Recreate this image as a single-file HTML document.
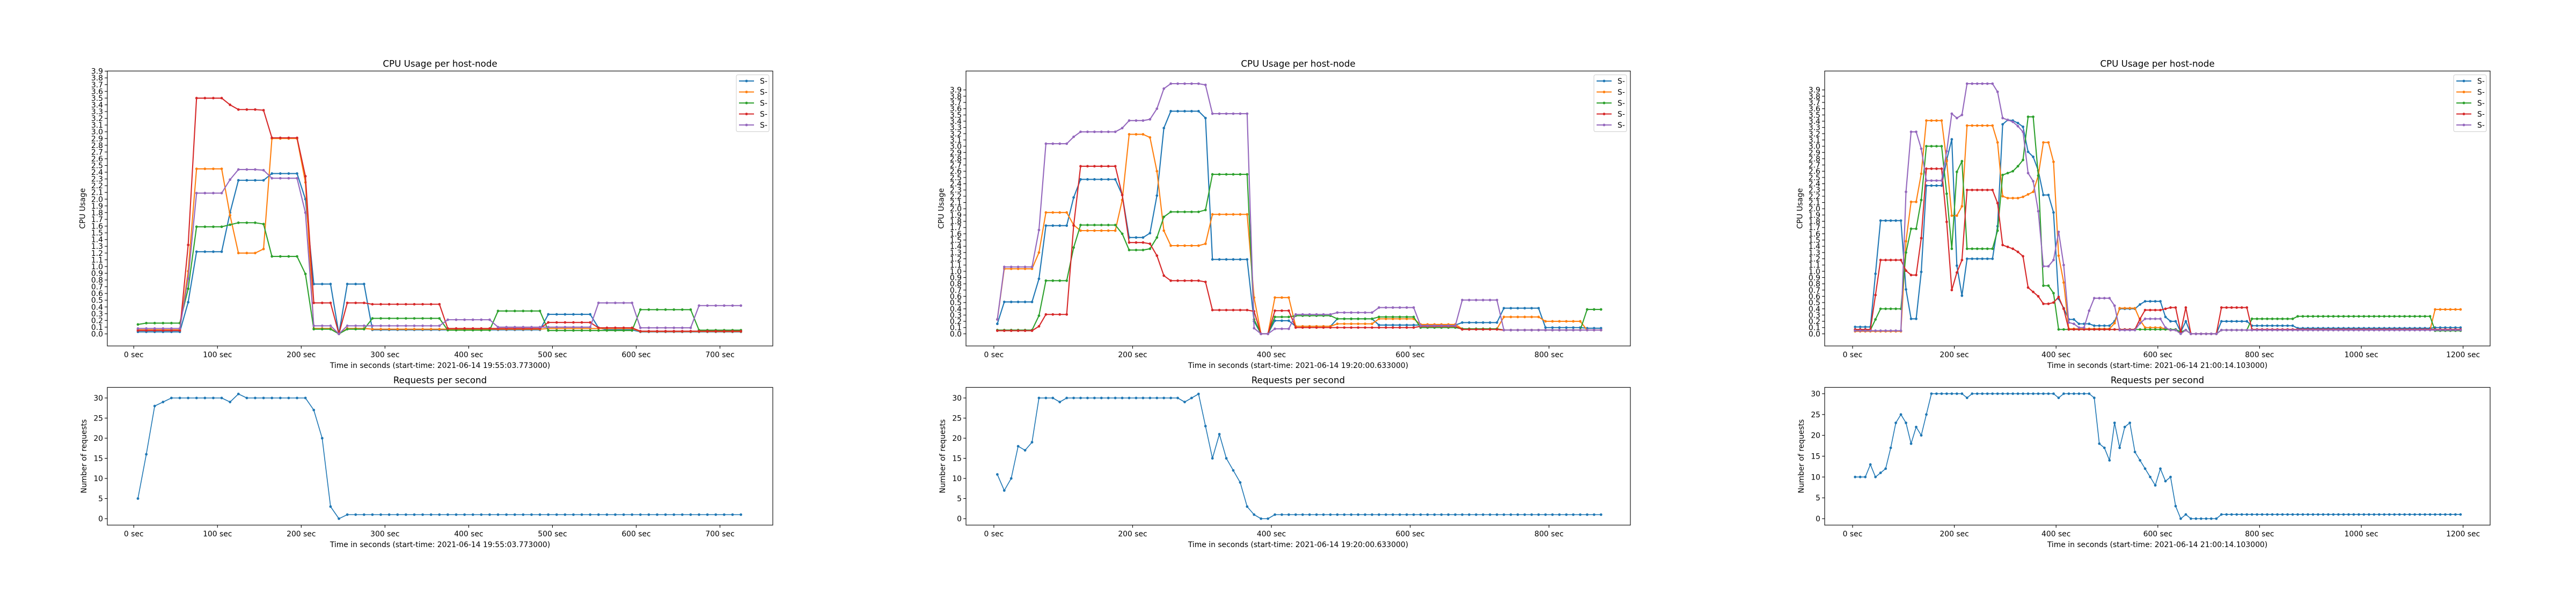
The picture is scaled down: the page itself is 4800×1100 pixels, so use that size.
<!DOCTYPE html>
<html><head><meta charset="utf-8"><title>CPU Usage per host-node</title>
<style>html,body{margin:0;padding:0;background:#fff;}svg{display:block;font-family:"DejaVu Sans","Liberation Sans",sans-serif;}</style>
</head><body>
<svg id="fig" xmlns="http://www.w3.org/2000/svg" width="4800" height="1100" viewBox="0 0 4800 1100">
<rect width="4800" height="1100" fill="#fff"/>
</svg>
<script>
// ---------- Chart 1 data (t = 5,15,...,725) ----------
const c1Blue = [0.03,0.03,0.03,0.03,0.03,0.03,0.47,1.22,1.22,1.22,1.22,1.8,2.28,2.28,2.28,2.28,2.38,2.38,2.38,2.38,2.0,0.74,0.74,0.74,0,0.74,0.74,0.74,
0.06,0.06,0.06,0.06,0.06,0.06,0.06, 0.06,0.06,0.06,0.06,0.06,0.06,0.06, 0.06,0.06,0.06,0.06,0.06,0.06,0.06,
0.29,0.29,0.29,0.29,0.29,0.29,0.09,0.06,0.06,0.06,0.06,
0.03,0.03,0.03,0.03,0.03,0.03,0.03,0.03,0.03,0.03,0.03,0.03,0.03];
const c1Orange = [0.06,0.06,0.06,0.06,0.06,0.06,0.93,2.45,2.45,2.45,2.45,1.76,1.2,1.2,1.2,1.26,2.9,2.9,2.9,2.9,2.25,0.08,0.08,0.08,0,0.08,0.08,0.08,
0.07,0.07,0.07,0.07,0.07,0.07,0.07, 0.07,0.07,0.07,0.07,0.07,0.07,0.07, 0.07,0.07,0.07,0.07,0.07,0.07,0.07,
0.08,0.08,0.08,0.08,0.08,0.08,0.08,0.08,0.08,0.08,0.08,
0.035,0.035,0.035,0.035,0.035,0.035,0.035,0.035,0.035,0.035,0.035,0.035,0.035];
const c1Green = [0.14,0.16,0.16,0.16,0.16,0.16,0.67,1.59,1.59,1.59,1.59,1.62,1.65,1.65,1.65,1.63,1.15,1.15,1.15,1.15,0.89,0.07,0.07,0.07,0,0.07,0.07,0.07,
0.23,0.23,0.23,0.23,0.23,0.23,0.23,0.23,0.23,
0.055,0.055,0.055,0.055,0.055,0.055,
0.34,0.34,0.34,0.34,0.34,0.34,
0.05,0.05,0.05,0.05,0.05,0.05,0.05,0.05,0.05,0.05,0.05,
0.36,0.36,0.36,0.36,0.36,0.36,0.36,
0.055,0.055,0.055,0.055,0.055,0.055];
const c1Red = [0.05,0.05,0.05,0.05,0.05,0.05,1.32,3.5,3.5,3.5,3.5,3.4,3.33,3.33,3.33,3.32,2.91,2.91,2.91,2.91,2.34,0.46,0.46,0.46,0,0.46,0.46,0.46,
0.44,0.44,0.44,0.44,0.44,0.44,0.44,0.44,0.44,
0.08,0.08,0.08,0.08,0.08,0.08,0.08,0.08,0.08,0.08,0.08,0.08,
0.17,0.17,0.17,0.17,0.17,0.17,
0.09,0.09,0.09,0.09,0.09,
0.04,0.04,0.04,0.04,0.04,0.04,0.04,0.04,0.04,0.04,0.04,0.04,0.04];
const c1Purple = [0.08,0.08,0.08,0.08,0.08,0.08,0.82,2.09,2.09,2.09,2.09,2.29,2.44,2.44,2.44,2.43,2.31,2.31,2.31,2.31,1.8,0.12,0.12,0.12,0,0.12,0.12,0.12,
0.12,0.12,0.12,0.12,0.12,0.12,0.12,0.12,0.12,
0.21,0.21,0.21,0.21,0.21,0.21,
0.1,0.1,0.1,0.1,0.1,0.1,0.1,0.1,0.1,0.1,0.1,0.1,
0.46,0.46,0.46,0.46,0.46,
0.09,0.09,0.09,0.09,0.09,0.09,0.09,
0.42,0.42,0.42,0.42,0.42,0.42];
const c1Req = [5,16,28,29,30,30,30,30,30,30,30,29,31,30,30,30,30,30,30,30,30,27,20,3,0,
1,1,1,1,1,1,1,1,1,1,1,1,1,1,1,1,1,1,1,1,1,1,1,1,1,1,1,1,1,1,1,1,1,1,1,1,1,1,1,1,1,1,1,1,1,1,1,1];

// ---------- Chart 2 data (t = 5,...,875) ----------
const c2Blue = [0.16,0.51,0.51,0.51,0.51,0.51,0.88,1.73,1.73,1.73,1.73,2.18,2.47,2.47,2.47,2.47,2.47,2.47,2.22,1.54,1.54,1.54,1.61,2.21,3.29,3.56,3.56,3.56,3.56,3.56,3.45,
1.19,1.19,1.19,1.19,1.19,1.19,0.2,0,0,0.21,0.21,0.21,
0.12,0.12,0.12,0.12,0.12,0.12, 0.24,0.24,0.24,0.24,0.24,0.24, 0.14,0.14,0.14,0.14,0.14,0.14, 0.14,0.14,0.14,0.14,0.14,0.14,
0.18,0.18,0.18,0.18,0.18,0.18, 0.41,0.41,0.41,0.41,0.41,0.41, 0.1,0.1,0.1,0.1,0.1,0.1, 0.09,0.09,0.09];
const c2Orange = [0.23,1.04,1.04,1.04,1.04,1.04,1.3,1.94,1.94,1.94,1.94,1.74,1.65,1.65,1.65,1.65,1.65,1.65,2.14,3.19,3.19,3.19,3.14,2.6,1.65,1.41,1.41,1.41,1.41,1.41,1.44,
1.91,1.91,1.91,1.91,1.91,1.91,0.58,0,0,0.58,0.58,0.58,
0.12,0.12,0.12,0.12,0.12,0.12, 0.16,0.16,0.16,0.16,0.16,0.16, 0.24,0.24,0.24,0.24,0.24,0.24, 0.15,0.15,0.15,0.15,0.15,0.15,
0.08,0.08,0.08,0.08,0.08,0.08, 0.27,0.27,0.27,0.27,0.27,0.27, 0.2,0.2,0.2,0.2,0.2,0.2, 0.06,0.06,0.06];
const c2Green = [0.06,0.06,0.06,0.06,0.06,0.06,0.29,0.85,0.85,0.85,0.85,1.38,1.74,1.74,1.74,1.74,1.74,1.74,1.6,1.34,1.34,1.34,1.36,1.54,1.87,1.95,1.95,1.95,1.95,1.95,1.98,
2.55,2.55,2.55,2.55,2.55,2.55,0.23,0,0,0.27,0.27,0.27,
0.29,0.29,0.29,0.29,0.29,0.29, 0.24,0.24,0.24,0.24,0.24,0.24, 0.27,0.27,0.27,0.27,0.27,0.27, 0.1,0.1,0.1,0.1,0.1,0.1,
0.08,0.08,0.08,0.08,0.08,0.08, 0.06,0.06,0.06,0.06,0.06,0.06, 0.06,0.06,0.06,0.06,0.06,0.06, 0.39,0.39,0.39];
const c2Red = [0.05,0.05,0.05,0.05,0.05,0.05,0.12,0.31,0.31,0.31,0.31,1.73,2.68,2.68,2.68,2.68,2.68,2.68,2.22,1.46,1.46,1.46,1.44,1.25,0.93,0.85,0.85,0.85,0.85,0.85,0.83,
0.38,0.38,0.38,0.38,0.38,0.38,0.36,0,0,0.37,0.37,0.37,
0.1,0.1,0.1,0.1,0.1,0.1, 0.1,0.1,0.1,0.1,0.1,0.1, 0.1,0.1,0.1,0.1,0.1,0.1, 0.12,0.12,0.12,0.12,0.12,0.12,
0.07,0.07,0.07,0.07,0.07,0.07, 0.06,0.06,0.06,0.06,0.06,0.06, 0.06,0.06,0.06,0.06,0.06,0.06, 0.06,0.06,0.06];
const c2Purple = [0.23,1.07,1.07,1.07,1.07,1.07,1.66,3.04,3.04,3.04,3.04,3.15,3.23,3.23,3.23,3.23,3.23,3.23,3.29,3.41,3.41,3.41,3.43,3.6,3.92,4.0,4.0,4.0,4.0,4.0,3.98,
3.52,3.52,3.52,3.52,3.52,3.52,0.09,0,0,0.08,0.08,0.08,
0.31,0.31,0.31,0.31,0.31,0.31, 0.34,0.34,0.34,0.34,0.34,0.34, 0.42,0.42,0.42,0.42,0.42,0.42, 0.13,0.13,0.13,0.13,0.13,0.13,
0.54,0.54,0.54,0.54,0.54,0.54, 0.06,0.06,0.06,0.06,0.06,0.06, 0.06,0.06,0.06,0.06,0.06,0.06, 0.06,0.06,0.06];
const c2Req = [11,7,10,18,17,19,30,30,30,29,
30,30,30,30,30,30,30,30,30,30,30,30,30,30,30,30,30,
29,30,31,23,15,21,15,12,9,3,1,0,0,
1,1,1,1,1,1,1,1,1,1,1,1,1,1,1,1,1,1,1,1,1,1,1,1,1,1,1,1,1,1,1,1,1,1,1,1,1,1,1,1,1,1,1,1,1,1,1,1];

// ---------- Chart 3 data (t = 5,...,1195) ----------
const c3Blue = [0.11,0.11,0.11,0.11,0.96,1.81,1.81,1.81,1.81,1.81,0.71,0.24,0.24,0.99,2.37,2.37,2.37,2.37,2.78,3.11,1.09,0.61,1.2,1.2,1.2,1.2,1.2,1.2,
1.72,3.35,3.42,3.41,3.37,3.31,2.91,2.83,2.61,2.22,2.22,1.94,0.56,0.41,0.23,0.23,0.16,0.16,0.16,0.13,0.13,0.13,0.13,0.2,0.4,0.4,0.4,0.4,
0.47,0.52,0.52,0.52,0.52,0.27,0.2,0.2,0.03,0.2,0,0,0,0,0,0,0.2,0.2,0.2,0.2,0.2,0.2,
0.13,0.13,0.13,0.13,0.13,0.13,0.13,0.13,0.13,
0.09,0.09,0.09,0.09,0.09,0.09,0.09,0.09,0.09,0.09,0.09,0.09,0.09,0.09,0.09,0.09,0.09,0.09,0.09,0.09,0.09,0.09,0.09,0.09,0.09,0.09,0.09,
0.1,0.1,0.1,0.1,0.1,0.1];
const c3Orange = [0.04,0.04,0.04,0.04,0.04,0.04,0.04,0.04,0.04,0.04,1.48,2.11,2.11,2.56,3.41,3.41,3.41,3.41,2.76,1.89,1.89,2.04,3.33,3.33,3.33,3.33,3.33,3.33,
3.06,2.2,2.17,2.17,2.17,2.19,2.23,2.27,2.53,3.06,3.06,2.75,1.25,0.82,0.08,0.08,0.08,0.08,0.08,0.08,0.08,0.08,0.08,0.17,0.41,0.41,0.41,0.41,
0.22,0.1,0.1,0.1,0.1,0.08,0.06,0.06,0.01,0.06,0,0,0,0,0,0,
0.06,0.06,0.06,0.06,0.06,0.06,0.06,0.06,0.06,0.06,0.06,0.06,0.06,0.06,0.06,0.06,0.06,0.06,0.06,0.06,0.06,
0.06,0.06,0.06,0.06,0.06,0.06,0.06,0.06,0.06,0.06,0.06,0.06,0.06,0.06,0.06,0.06,0.06,0.06,0.06,0.06,0.06,
0.39,0.39,0.39,0.39,0.39,0.39];
const c3Green = [0.06,0.06,0.06,0.06,0.23,0.4,0.4,0.4,0.4,0.4,1.3,1.68,1.68,2.14,3.0,3.0,3.0,3.0,2.24,1.36,2.59,2.76,1.36,1.36,1.36,1.36,1.36,1.36,
1.65,2.54,2.57,2.6,2.68,2.78,3.47,3.47,2.53,0.77,0.77,0.65,
0.07,0.07,0.07,0.07,0.07,0.07,0.07,0.07,0.07,0.07,0.07,0.07,0.07,0.07,0.07,0.07,0.07,0.07,0.07,0.07,0.07,0.07,0.07,0.07,
0.03,0.06,0,0,0,0,0,0,0.06,0.06,0.06,0.06,0.06,0.06,
0.24,0.24,0.24,0.24,0.24,0.24,0.24,0.24,0.24,
0.28,0.28,0.28,0.28,0.28,0.28,0.28,0.28,0.28,0.28,0.28,0.28,0.28,0.28,0.28,0.28,0.28,0.28,0.28,0.28,0.28,0.28,0.28,0.28,0.28,0.28,0.28,
0.05,0.05,0.05,0.05,0.05,0.05];
const c3Red = [0.07,0.07,0.07,0.07,0.62,1.18,1.18,1.18,1.18,1.18,1.01,0.94,0.94,1.53,2.64,2.64,2.64,2.64,1.79,0.7,0.98,1.18,2.3,2.3,2.3,2.3,2.3,2.3,
2.09,1.42,1.39,1.36,1.31,1.24,0.74,0.67,0.6,0.48,0.48,0.5,0.59,0.4,
0.07,0.07,0.07,0.07,0.07,0.07,0.07,0.07,0.07,0.07,0.07,0.07,0.07,0.07,
0.24,0.38,0.38,0.38,0.38,0.4,0.42,0.42,0.03,0.42,0,0,0,0,0,0,0.42,0.42,0.42,0.42,0.42,0.42,
0.07,0.07,0.07,0.07,0.07,0.07,0.07,0.07,0.07,0.07,0.07,0.07,0.07,0.07,0.07,0.07,0.07,0.07,0.07,0.07,0.07,
0.07,0.07,0.07,0.07,0.07,0.07,0.07,0.07,0.07,0.07,0.07,0.07,0.07,0.07,0.07,0.07,0.07,0.07,0.07,0.07,0.07];
const c3Purple = [0.05,0.05,0.05,0.05,0.05,0.05,0.05,0.05,0.05,0.05,2.27,3.23,3.23,2.96,2.45,2.45,2.45,2.45,2.92,3.52,3.45,3.5,4.0,4.0,4.0,4.0,4.0,4.0,
3.87,3.45,3.42,3.39,3.32,3.23,2.57,2.44,1.96,1.08,1.08,1.18,1.63,1.1,0.18,0.16,0.1,0.1,0.37,0.57,0.57,0.57,0.57,0.45,0.06,0.06,0.06,0.06,
0.17,0.24,0.24,0.24,0.24,0.1,0.06,0.06,0,0.06,0,0,0,0,0,0,
0.06,0.06,0.06,0.06,0.06,0.06,0.06,0.06,0.06,0.06,0.06,0.06,0.06,0.06,0.06,0.06,
0.06,0.06,0.06,0.06,0.06,0.06,0.06,0.06,0.06,0.06,0.06,0.06,0.06,0.06,0.06,0.06,
0.06,0.06,0.06,0.06,0.06,0.06,0.06,0.06,0.06,0.06,0.06,0.06,0.06,0.06,0.06,0.06];
const c3Req = [10,10,10,13,10,11,12,17,23,25,23,18,22,20,25,
30,30,30,30,30,30,30,29,
30,30,30,30,30,30,30,30,30,30,30,30,30,30,30,30,30,
29,30,30,30,30,30,30,29,
18,17,14,23,17,22,23,16,14,12,10,8,12,9,10,3,0,1,
0,0,0,0,0,0,
1,1,1,1,1,1,1,1,1,1,1,1,1,1,1,1,1,1,1,1,1,1,1,1,1,1,1,1,1,1,1,1,1,1,1,1,1,1,1,1,1,1,1,1,1,1,1,1];

// ---------- tick labels ----------
const cpuTicks = [0,0.1,0.2,0.3,0.4,0.5,0.6,0.7,0.8,0.9,1.0,1.1,1.2,1.3,1.4,1.5,1.6,1.7,1.8,1.9,2.0,2.1,2.2,2.3,2.4,2.5,2.6,2.7,2.8,2.9,3.0,3.1,3.2,3.3,3.4,3.5,3.6,3.7,3.8,3.9];
const reqTicks = [0,5,10,15,20,25,30];
const c1XTicks = [0,100,200,300,400,500,600,700];
const c2XTicks = [0,200,400,600,800];
const c3XTicks = [0,200,400,600,800,1000,1200];
const startTimes = ["2021-06-14 19:55:03.773000","2021-06-14 19:20:00.633000","2021-06-14 21:00:14.103000"];
const legendLabels = ["S-","S-","S-","S-","S-"];

const NS = "http://www.w3.org/2000/svg";
const svg = document.getElementById('fig');
const COLORS = ["#1f77b4","#ff7f0e","#2ca02c","#d62728","#9467bd"];
function el(tag, attrs, parent){const e=document.createElementNS(NS,tag);for(const k in attrs)e.setAttribute(k,attrs[k]);(parent||svg).appendChild(e);return e;}
function txt(s, attrs, parent){const e=el('text',attrs,parent);e.textContent=s;return e;}

function drawAxes(g, box, xs, ys, xTicks, yTicks, yFmt, title, ylabel, xlabel, ylabX){
  el('rect',{x:box.l,y:box.t,width:box.r-box.l,height:box.b-box.t,fill:'none',stroke:'#000','stroke-width':1.1},g);
  const tg=el('g',{},g);
  
  
  xTicks.forEach(v=>{const x=xs(v);
    el('line',{x1:x,x2:x,y1:box.b,y2:box.b+4.9,stroke:'#000','stroke-width':1.1},tg);
    const t=txt(v+' sec',{x:x,y:box.b+21,'font-size':13.9,'text-anchor':'middle',fill:'#000'},tg);
    
    
  });
  const yg=el('g',{},g);
  
  
  yTicks.forEach(v=>{const y=ys(v);
    el('line',{x1:box.l-4.9,x2:box.l,y1:y,y2:y,stroke:'#000','stroke-width':1.1},yg);
    const t=txt(yFmt(v),{x:box.l-8,y:y+5,'font-size':13.9,'text-anchor':'end',fill:'#000'},yg);
    
    
  });
  const ti=txt(title,{x:(box.l+box.r)/2,y:box.t-8,'font-size':16.7,'text-anchor':'middle',fill:'#000'},g);
  
  
  const cy=(box.t+box.b)/2;
  const yl=txt(ylabel,{x:ylabX,y:cy,'font-size':13.9,'text-anchor':'middle','dominant-baseline':'central',transform:'rotate(-90 '+ylabX+' '+cy+')',fill:'#000'},g);
  
  
  const xl=txt(xlabel,{x:(box.l+box.r)/2,y:box.b+41,'font-size':13.9,'text-anchor':'middle',fill:'#000'},g);
  
  
}
function drawSeries(g, vals, xs, ys, color, lw, name){
  const sg=el('g',{},g);
  
  
  const pts=vals.map((v,i)=>xs(5+10*i).toFixed(2)+','+ys(v).toFixed(2)).join(' ');
  el('polyline',{points:pts,fill:'none',stroke:color,'stroke-width':lw,'stroke-linejoin':'round'},sg);
  vals.forEach((v,i)=>{const c=el('circle',{cx:xs(5+10*i),cy:ys(v),r:2.4,fill:color},sg);
    
    });
}
function drawLegend(g, x, y){
  const lg=el('g',{},g);
  
  
  el('rect',{x:x,y:y,width:61,height:106,rx:3,fill:'#fff','fill-opacity':0.8,stroke:'#ccc','stroke-width':1},lg);
  legendLabels.forEach((lab,k)=>{
    const ry=y+11.5+k*20.5;
    const eg=el('g',{},lg);
    
    
    el('line',{x1:x+5,x2:x+33,y1:ry,y2:ry,stroke:COLORS[k],'stroke-width':2.1},eg);
    el('circle',{cx:x+19,cy:ry,r:2.4,fill:COLORS[k]},eg);
    txt(lab,{x:x+44,y:ry+5,'font-size':13.9,fill:'#000'},eg);
  });
}

const charts = [
  {l:200,r:1440,x0:249.2,px:1.5605,cpu0:622.5,cpuU:125.6,req0:967,req30:742,xt:c1XTicks,series:[c1Blue,c1Orange,c1Green,c1Red,c1Purple],req:c1Req,st:startTimes[0]},
  {l:1800,r:3038,x0:1851.9,px:1.293,cpu0:622.4,cpuU:116.6,req0:967,req30:742,xt:c2XTicks,series:[c2Blue,c2Orange,c2Green,c2Red,c2Purple],req:c2Req,st:startTimes[1]},
  {l:3400,r:4640,x0:3452,px:0.948,cpu0:622.4,cpuU:116.6,req0:967,req30:734,xt:c3XTicks,series:[c3Blue,c3Orange,c3Green,c3Red,c3Purple],req:c3Req,st:startTimes[2]}
];
const names=['host-node-1','host-node-2','host-node-3','host-node-4','host-node-5'];
charts.forEach((c,ci)=>{
  const xs=t=>c.x0+c.px*t;
  const cg=el('g',{});
  
  
  const box={l:c.l,r:c.r,t:132.4,b:645};
  const ys=v=>c.cpu0-c.cpuU*v;
  const xlabel='Time in seconds (start-time: '+c.st+')';
  drawAxes(cg,box,xs,ys,c.xt,cpuTicks,v=>v.toFixed(1),'CPU Usage per host-node','CPU Usage',xlabel,c.l-45.5);
  c.series.forEach((s,k)=>drawSeries(cg,s,xs,ys,COLORS[k],2.1,'cpu-line-'+names[k]));
  drawLegend(cg,c.r-68,139.5);

  const rg=el('g',{});
  
  
  const rbox={l:c.l,r:c.r,t:722.3,b:979};
  const ry=v=>c.req0-(c.req0-c.req30)/30*v;
  drawAxes(rg,rbox,xs,ry,c.xt,reqTicks,v=>String(v),'Requests per second','Number of requests',xlabel,c.l-43);
  drawSeries(rg,c.req,xs,ry,COLORS[0],1.6,'requests-line');
});
</script>
</body></html>
